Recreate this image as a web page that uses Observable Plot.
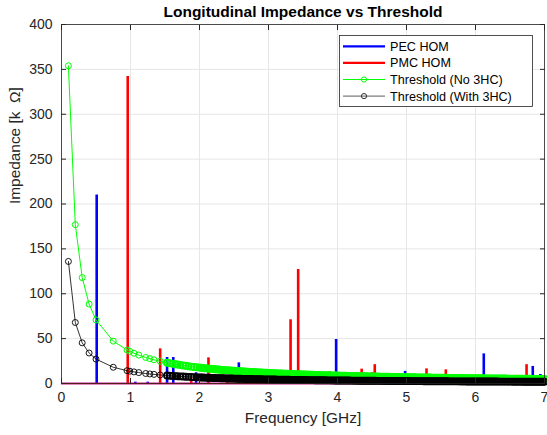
<!DOCTYPE html>
<html>
<head>
<meta charset="utf-8">
<script src="https://cdn.jsdelivr.net/npm/d3@7"></script>
<script src="https://cdn.jsdelivr.net/npm/@observablehq/plot@0.6"></script>
<style>
  html, body { margin: 0; padding: 0; background: #fff; }
  #chart { width: 547px; height: 435px; }
</style>
</head>
<body>
<div id="chart"></div>
<script>
// ---- data ----
const title = "Longitudinal Impedance vs Threshold";
const xLabel = "Frequency [GHz]";
const yLabel = "Impedance [k  Ω]";
const xTicks = [0, 1, 2, 3, 4, 5, 6, 7];
const yTicks = [0, 50, 100, 150, 200, 250, 300, 350, 400];
const seriesNames = ["PEC HOM", "PMC HOM", "Threshold (No 3HC)", "Threshold (With 3HC)"];

const pecFreq = [0.51, 1.07, 1.25, 1.53, 1.62, 1.95, 2.57, 2.72, 3.98, 4.98, 6.12, 6.83, 6.94];
const pecZ    = [210, 1.5, 1.5, 29, 29, 12, 23, 16, 49, 13.5, 33, 19, 10];

const pmcFreq = [0.96, 1.43, 1.88, 2.13, 2.40, 3.32, 3.43, 3.89, 4.35, 4.50, 4.54, 5.29, 5.57, 6.74];
const pmcZ    = [342, 38.6, 5, 28.6, 4, 71, 127, 13, 16, 12, 21, 16.3, 15.2, 21];

const thrFreq = [
  0.1, 0.2, 0.3, 0.4, 0.5, 0.75, 0.95, 0.99, 1.05, 1.12, 1.22, 1.28, 1.34, 1.43,
  1.53, 1.57, 1.61, 1.65, 1.68, 1.72, 1.76, 1.80, 1.84, 1.88, 1.92, 1.96,
  2.000, 2.025, 2.050, 2.075, 2.100, 2.125, 2.150, 2.175, 2.200, 2.225,
  2.250, 2.275, 2.300, 2.325, 2.350, 2.375, 2.400, 2.425, 2.450, 2.475,
  2.500, 2.525, 2.550, 2.575, 2.600, 2.625, 2.650, 2.675, 2.700, 2.725,
  2.750, 2.775, 2.800, 2.825, 2.850, 2.875, 2.900, 2.925, 2.950, 2.975,
  3.000, 3.025, 3.050, 3.075, 3.100, 3.125, 3.150, 3.175, 3.200, 3.225,
  3.250, 3.275, 3.300, 3.325, 3.350, 3.375, 3.400, 3.425, 3.450, 3.475,
  3.500, 3.525, 3.550, 3.575, 3.600, 3.625, 3.650, 3.675, 3.700, 3.725,
  3.750, 3.775, 3.800, 3.825, 3.850, 3.875, 3.900, 3.925, 3.950, 3.975,
  4.000, 4.025, 4.050, 4.075, 4.100, 4.125, 4.150, 4.175, 4.200, 4.225,
  4.250, 4.275, 4.300, 4.325, 4.350, 4.375, 4.400, 4.425, 4.450, 4.475,
  4.500, 4.525, 4.550, 4.575, 4.600, 4.625, 4.650, 4.675, 4.700, 4.725,
  4.750, 4.775, 4.800, 4.825, 4.850, 4.875, 4.900, 4.925, 4.950, 4.975,
  5.000, 5.025, 5.050, 5.075, 5.100, 5.125, 5.150, 5.175, 5.200, 5.225,
  5.250, 5.275, 5.300, 5.325, 5.350, 5.375, 5.400, 5.425, 5.450, 5.475,
  5.500, 5.525, 5.550, 5.575, 5.600, 5.625, 5.650, 5.675, 5.700, 5.725,
  5.750, 5.775, 5.800, 5.825, 5.850, 5.875, 5.900, 5.925, 5.950, 5.975,
  6.000, 6.025, 6.050, 6.075, 6.100, 6.125, 6.150, 6.175, 6.200, 6.225,
  6.250, 6.275, 6.300, 6.325, 6.350, 6.375, 6.400, 6.425, 6.450, 6.475,
  6.500, 6.525, 6.550, 6.575, 6.600, 6.625, 6.650, 6.675, 6.700, 6.725,
  6.750, 6.775, 6.800, 6.825, 6.850, 6.875, 6.900, 6.925, 6.950, 6.975,
  7.000];

const thrNo3HC = [
  354, 177, 118, 88.5, 70.8, 47.2, 37.3, 35.8, 33.7, 31.6, 29.0, 27.7, 26.4, 24.8,
  23.1, 22.5, 22.0, 21.5, 21.1, 20.6, 20.1, 19.7, 19.2, 18.8, 18.4, 18.1,
  17.70, 17.48, 17.27, 17.06, 16.86, 16.66, 16.47, 16.28, 16.09, 15.91,
  15.73, 15.56, 15.39, 15.23, 15.06, 14.91, 14.75, 14.60, 14.45, 14.30,
  14.16, 14.02, 13.88, 13.75, 13.62, 13.49, 13.36, 13.23, 13.11, 12.99,
  12.87, 12.76, 12.64, 12.53, 12.42, 12.31, 12.21, 12.10, 12.00, 11.90,
  11.80, 11.70, 11.61, 11.51, 11.42, 11.33, 11.24, 11.15, 11.06, 10.98,
  10.89, 10.81, 10.73, 10.65, 10.57, 10.49, 10.41, 10.34, 10.26, 10.19,
  10.11, 10.04, 9.97, 9.90, 9.83, 9.77, 9.70, 9.63, 9.57, 9.50,
  9.44, 9.38, 9.32, 9.25, 9.19, 9.14, 9.08, 9.02, 8.96, 8.91,
  8.85, 8.80, 8.74, 8.69, 8.63, 8.58, 8.53, 8.48, 8.43, 8.38,
  8.33, 8.28, 8.23, 8.18, 8.14, 8.09, 8.05, 8.00, 7.96, 7.91,
  7.87, 7.82, 7.78, 7.74, 7.70, 7.65, 7.61, 7.57, 7.53, 7.49,
  7.45, 7.41, 7.38, 7.34, 7.30, 7.26, 7.22, 7.19, 7.15, 7.12,
  7.08, 7.04, 7.01, 6.98, 6.94, 6.91, 6.87, 6.84, 6.81, 6.78,
  6.74, 6.71, 6.68, 6.65, 6.62, 6.59, 6.56, 6.53, 6.50, 6.47,
  6.44, 6.41, 6.38, 6.35, 6.32, 6.29, 6.27, 6.24, 6.21, 6.18,
  6.16, 6.13, 6.10, 6.08, 6.05, 6.03, 6.00, 5.97, 5.95, 5.92,
  5.90, 5.88, 5.85, 5.83, 5.80, 5.78, 5.76, 5.73, 5.71, 5.69,
  5.66, 5.64, 5.62, 5.60, 5.57, 5.55, 5.53, 5.51, 5.49, 5.47,
  5.45, 5.43, 5.40, 5.38, 5.36, 5.34, 5.32, 5.30, 5.28, 5.26,
  5.24, 5.23, 5.21, 5.19, 5.17, 5.15, 5.13, 5.11, 5.09, 5.08,
  5.06];

const thrWith3HC = [
  136, 68, 45.3, 34, 27.2, 18.1, 14.3, 13.7, 12.95, 12.14, 11.15, 10.63, 10.15, 9.51,
  8.89, 8.66, 8.45, 8.24, 8.10, 7.91, 7.73, 7.56, 7.39, 7.23, 7.08, 6.94,
  6.80, 6.72, 6.63, 6.55, 6.48, 6.40, 6.33, 6.25, 6.18, 6.11,
  6.04, 5.98, 5.91, 5.85, 5.79, 5.73, 5.67, 5.61, 5.55, 5.49,
  5.44, 5.39, 5.33, 5.28, 5.23, 5.18, 5.13, 5.08, 5.04, 4.99,
  4.95, 4.90, 4.86, 4.81, 4.77, 4.73, 4.69, 4.65, 4.61, 4.57,
  4.53, 4.50, 4.46, 4.42, 4.39, 4.35, 4.32, 4.28, 4.25, 4.22,
  4.18, 4.15, 4.12, 4.09, 4.06, 4.03, 4.00, 3.97, 3.94, 3.91,
  3.89, 3.86, 3.83, 3.80, 3.78, 3.75, 3.73, 3.70, 3.68, 3.65,
  3.63, 3.60, 3.58, 3.56, 3.53, 3.51, 3.49, 3.46, 3.44, 3.42,
  3.40, 3.38, 3.36, 3.34, 3.32, 3.30, 3.28, 3.26, 3.24, 3.22,
  3.20, 3.18, 3.16, 3.14, 3.13, 3.11, 3.09, 3.07, 3.06, 3.04,
  3.02, 3.01, 2.99, 2.97, 2.96, 2.94, 2.92, 2.91, 2.89, 2.88,
  2.86, 2.85, 2.83, 2.82, 2.80, 2.79, 2.78, 2.76, 2.75, 2.73,
  2.72, 2.71, 2.69, 2.68, 2.67, 2.65, 2.64, 2.63, 2.62, 2.60,
  2.59, 2.58, 2.57, 2.55, 2.54, 2.53, 2.52, 2.51, 2.50, 2.48,
  2.47, 2.46, 2.45, 2.44, 2.43, 2.42, 2.41, 2.40, 2.39, 2.38,
  2.37, 2.35, 2.34, 2.33, 2.32, 2.31, 2.31, 2.30, 2.29, 2.28,
  2.27, 2.26, 2.25, 2.24, 2.23, 2.22, 2.21, 2.20, 2.19, 2.18,
  2.18, 2.17, 2.16, 2.15, 2.14, 2.13, 2.13, 2.12, 2.11, 2.10,
  2.09, 2.08, 2.08, 2.07, 2.06, 2.05, 2.05, 2.04, 2.03, 2.02,
  2.01, 2.01, 2.00, 1.99, 1.99, 1.98, 1.97, 1.96, 1.96, 1.95,
  1.94];

// ---- build tables ----
const pec = pecFreq.map((f, i) => ({f, z: pecZ[i]}));
const pmc = pmcFreq.map((f, i) => ({f, z: pmcZ[i]}));
const thrA = thrFreq.map((f, i) => ({f, z: thrNo3HC[i]}));
const thrB = thrFreq.map((f, i) => ({f, z: thrWith3HC[i]}));

const colors = {pec: "#0000ff", pmc: "#ff0000", a: "#00ff00", b: "#000000"};
const axisColor = "#262626";
const font = "'Liberation Sans', Arial, Helvetica, sans-serif";
const sparse = d => d.f < 1.5;
const dense = d => d.f >= 1.5;

const plot = Plot.plot({
  width: 547,
  height: 435,
  marginLeft: 61,
  marginRight: 3,
  marginTop: 24,
  marginBottom: 52,
  style: {fontFamily: font, fontSize: "14px", color: axisColor, background: "#fff", overflow: "visible"},
  x: {domain: [0, 7], label: null},
  y: {domain: [0, 400], label: null},
  marks: [
    Plot.gridX(xTicks, {stroke: "#e6e6e6", strokeOpacity: 1, strokeWidth: 1}),
    Plot.gridY(yTicks, {stroke: "#e6e6e6", strokeOpacity: 1, strokeWidth: 1}),
    Plot.ruleX(pec, {x: "f", y1: 0, y2: "z", stroke: colors.pec, strokeWidth: 2.6}),
    Plot.ruleX(pmc, {x: "f", y1: 0, y2: "z", stroke: colors.pmc, strokeWidth: 2.6}),
    Plot.ruleY([0], {stroke: "#c0148c", strokeWidth: 2.2}),
    Plot.ruleY([0], {stroke: colors.pmc, strokeWidth: 1.2}),
    Plot.line(thrA, {x: "f", y: "z", stroke: colors.a, strokeWidth: 1}),
    Plot.dot(thrA, {x: "f", y: "z", filter: sparse, r: 3, stroke: colors.a, fill: "none", strokeWidth: 1}),
    Plot.dot(thrA, {x: "f", y: "z", filter: dense, r: 3.1, stroke: colors.a, fill: "none", strokeWidth: 1.7}),
    Plot.line(thrB, {x: "f", y: "z", stroke: colors.b, strokeWidth: 0.8}),
    Plot.dot(thrB, {x: "f", y: "z", filter: sparse, r: 3, stroke: colors.b, fill: "none", strokeWidth: 0.9}),
    Plot.dot(thrB, {x: "f", y: "z", filter: dense, r: 3.1, stroke: colors.b, fill: "none", strokeWidth: 1.7}),
    Plot.frame({stroke: axisColor, strokeWidth: 0.8}),
    // tick labels
    Plot.axisX(xTicks, {anchor: "bottom", tickSize: 0, tickPadding: 9, fill: axisColor, fontSize: 14, label: null}),
    Plot.axisY(yTicks, {anchor: "left", tickSize: 0, tickPadding: 9, fill: axisColor, fontSize: 14, label: null}),
    // inward tick marks
    Plot.axisX(xTicks, {anchor: "bottom", tickSize: -5, tickFormat: () => "", stroke: axisColor, label: null}),
    Plot.axisX(xTicks, {anchor: "top", tickSize: -5, tickFormat: () => "", stroke: axisColor, label: null}),
    Plot.axisY(yTicks, {anchor: "left", tickSize: -5, tickFormat: () => "", stroke: axisColor, label: null}),
    Plot.axisY(yTicks, {anchor: "right", tickSize: -5, tickFormat: () => "", stroke: axisColor, label: null}),
    // title and axis labels
    Plot.text([title], {frameAnchor: "top", lineAnchor: "middle", dy: -12, fontWeight: "bold", fontSize: 15.5, fill: "#000"}),
    Plot.text([xLabel], {frameAnchor: "bottom", lineAnchor: "middle", dy: 35, fontSize: 15.4, fill: axisColor}),
    Plot.text([yLabel], {frameAnchor: "left", dx: -46, rotate: -90, fontSize: 15.4, fill: axisColor})
  ]
});

// ---- legend (inside the plot, top-right) ----
const svg = d3.select(plot);
const lg = svg.append("g").attr("font-family", font).attr("font-size", 12.6)
  .attr("fill", "#000").attr("text-anchor", "start");
const box = {x: 339.5, y: 35.5, w: 193, h: 71};
lg.append("rect").attr("x", box.x).attr("y", box.y).attr("width", box.w).attr("height", box.h)
  .attr("fill", "#fff").attr("stroke", axisColor).attr("stroke-width", 0.8);
const legendItems = [
  {name: seriesNames[0], color: colors.pec, w: 2.2, marker: false},
  {name: seriesNames[1], color: colors.pmc, w: 2.2, marker: false},
  {name: seriesNames[2], color: colors.a, w: 1, marker: true},
  {name: seriesNames[3], color: "#333", w: 0.8, marker: true}
];
legendItems.forEach((it, i) => {
  const cy = 46.3 + i * 16.6;
  lg.append("line").attr("x1", 343).attr("x2", 385).attr("y1", cy).attr("y2", cy)
    .attr("stroke", it.color).attr("stroke-width", it.w);
  if (it.marker) {
    lg.append("circle").attr("cx", 364).attr("cy", cy).attr("r", 2.6)
      .attr("fill", "none").attr("stroke", it.color).attr("stroke-width", 1);
  }
  lg.append("text").attr("x", 390).attr("y", cy).attr("dy", "0.35em")
    .attr("text-anchor", "start").text(it.name);
});

document.getElementById("chart").appendChild(plot);
</script>
</body>
</html>
